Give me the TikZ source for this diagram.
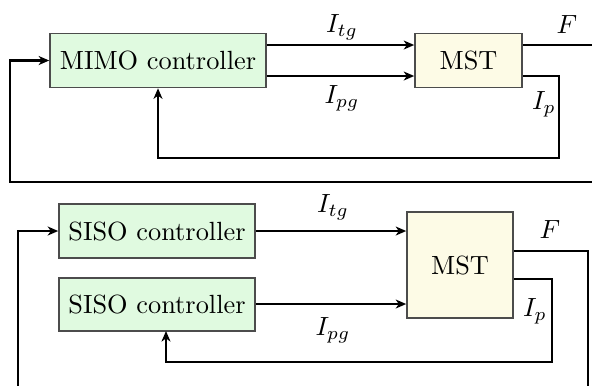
\documentclass[tikz,border=0pt]{standalone}
\usetikzlibrary{arrows.meta}
\definecolor{ctrlfill}{RGB}{224,250,224}
\definecolor{plantfill}{RGB}{253,251,230}
\def\u{0.38pt}
\begin{document}
\begin{tikzpicture}[x=\u,y=-\u,
  block/.style={draw=black!70,line width=0.6pt,inner sep=0pt,font=\normalsize},
  ctrl/.style={block,fill=ctrlfill},
  plant/.style={block,fill=plantfill},
  wire/.style={line width=1pt},
  sig/.style={wire,-{Stealth[length=4pt,width=3.4pt,inset=1.2pt]}},
  lbl/.style={inner sep=0pt}]
\useasboundingbox (0,0) rectangle (592,385);
\clip (0,0) rectangle (592,385);

% ---------- MIMO loop ----------
\node[ctrl,minimum width=216*\u,minimum height=54*\u] (mimo) at (158,60.5) {MIMO controller};
\node[plant,minimum width=107*\u,minimum height=54*\u] (mst1) at (468.5,60.5) {MST};

\coordinate (ra) at (0,45);
\coordinate (rb) at (0,76);
\coordinate (fa) at (600,45);
\coordinate (pa) at (559,76);
\coordinate (pb) at (559,158);
\coordinate (pc) at (158,158);
\coordinate (oa) at (600,182);
\coordinate (ob) at (10,182);

\draw[sig] (mimo.east |- ra) -- (mst1.west |- ra);
\draw[sig] (mimo.east |- rb) -- (mst1.west |- rb);
\draw[wire] (mst1.east |- ra) -- (fa);
\draw[sig] (mst1.east |- rb) -- (pa) -- (pb) -- (pc) -- (mimo.south);
\draw[sig] (oa) -- (ob) |- (mimo.west);

\node[lbl] (ltg1) at (342,27) {$I_{tg}$};
\node[lbl] (lpg1) at (342,98) {$I_{pg}$};
\node[lbl] (lf1) at (567,24) {$F$};
\node[lbl] (lp1) at (544,104) {$I_p$};

% ---------- decentralised loop ----------
\node[ctrl,minimum width=196*\u,minimum height=54*\u] (siso1) at (157,231) {SISO controller};
\node[ctrl,minimum width=196*\u,minimum height=53*\u] (siso2) at (157,304.5) {SISO controller};
\node[plant,minimum width=106*\u,minimum height=106*\u] (mst2) at (460,265) {MST};

\coordinate (rc) at (0,231);
\coordinate (rd) at (0,304);
\coordinate (fb) at (0,251);
\coordinate (fc) at (588,251);
\coordinate (fd) at (588,395);
\coordinate (qb) at (0,279);
\coordinate (qc) at (552,279);
\coordinate (qd) at (552,362);
\coordinate (qe) at (166,362);
\coordinate (qf) at (166,331);
\coordinate (ld) at (18,395);
\coordinate (le) at (18,231);

\draw[sig] (siso1.east |- rc) -- (mst2.west |- rc);
\draw[sig] (siso2.east |- rd) -- (mst2.west |- rd);
\draw[wire] (mst2.east |- fb) -- (fc) -- (fd);
\draw[sig] (mst2.east |- qb) -- (qc) -- (qd) -- (qe) -- (qf);
\draw[sig] (ld) -- (le) -- (siso1.west);

\node[lbl] (ltg2) at (333,207) {$I_{tg}$};
\node[lbl] (lpg2) at (333,330) {$I_{pg}$};
\node[lbl] (lf2) at (550,229) {$F$};
\node[lbl] (lp2) at (535,311) {$I_p$};
\end{tikzpicture}
\end{document}
